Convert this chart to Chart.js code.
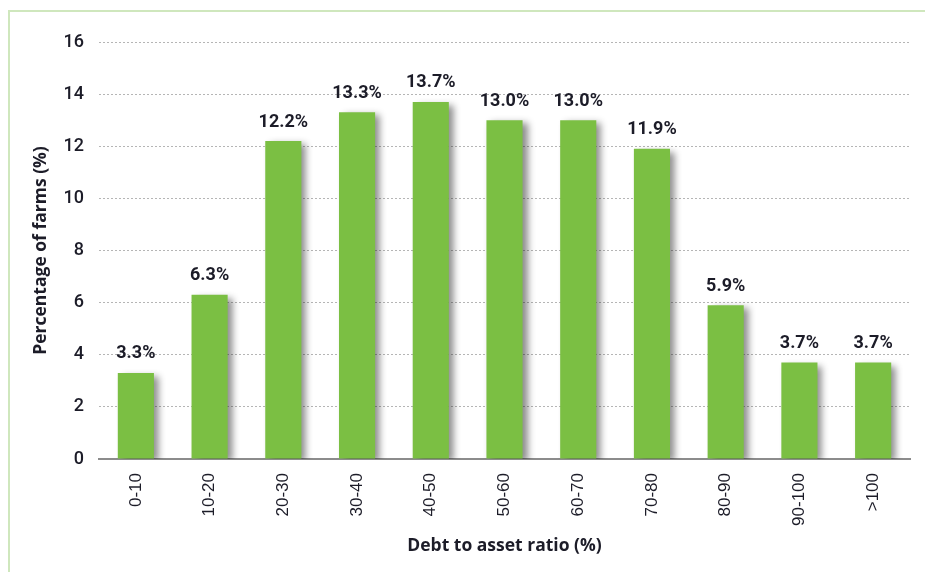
<!DOCTYPE html>
<html>
<head>
<meta charset="utf-8">
<script src="https://cdn.jsdelivr.net/npm/chart.js@4/dist/chart.umd.min.js"></script>
<style>
  html,body{margin:0;padding:0;background:#fff;}
  #wrap{width:925px;height:572px;position:relative;}
</style>
</head>
<body>
<div id="wrap"><canvas id="chart" width="925" height="572"></canvas></div>
<script>
// ---- data ----
const categories = ["0-10","10-20","20-30","30-40","40-50","50-60","60-70","70-80","80-90","90-100",">100"];
const farmShare = [3.3, 6.3, 12.2, 13.3, 13.7, 13.0, 13.0, 11.9, 5.9, 3.7, 3.7];
const yTicks = [0, 2, 4, 6, 8, 10, 12, 14, 16];

const barGreen = "#7bbf43";
const textDark = "#1c1c28";

// green frame round the figure
const framePlugin = {
  id: "frame",
  beforeDraw(chart){
    const c = chart.ctx;
    c.save();
    c.strokeStyle = "#cfe7bd";
    c.lineWidth = 2;
    c.beginPath();
    c.moveTo(9, chart.height);
    c.lineTo(9, 11);
    c.lineTo(chart.width, 11);
    c.stroke();
    c.restore();
  }
};

// soft shadow behind the bars
const shadowPlugin = {
  id: "barShadow",
  beforeDatasetsDraw(chart){
    const c = chart.ctx;
    c.save();
    c.shadowColor = "rgba(0,0,0,0.45)";
    c.shadowBlur = 7;
    c.shadowOffsetX = 5;
    c.shadowOffsetY = 3;
  },
  afterDatasetsDraw(chart){ chart.ctx.restore(); }
};

// value labels above bars
const valueLabels = {
  id: "valueLabels",
  afterDatasetsDraw(chart){
    const c = chart.ctx;
    const meta = chart.getDatasetMeta(0);
    c.save();
    c.font = "bold 18px Roboto";
    c.fillStyle = textDark;
    c.textAlign = "center";
    c.textBaseline = "bottom";
    meta.data.forEach((bar, i) => {
      c.fillText(farmShare[i].toFixed(1) + "%", bar.x, bar.y - 10);
    });
    c.restore();
  }
};

new Chart(document.getElementById("chart"), {
  type: "bar",
  data: {
    labels: categories,
    datasets: [{
      data: farmShare,
      backgroundColor: barGreen,
      borderWidth: 0,
      categoryPercentage: 1.0,
      barPercentage: 0.49
    }]
  },
  options: {
    responsive: false,
    animation: false,
    layout: { padding: { left: 0, top: 42, right: 15, bottom: 0 } },
    plugins: { legend: { display: false }, tooltip: { enabled: false } },
    scales: {
      x: {
        grid: { display: false, drawTicks: false },
        border: { display: true, color: "#8c8c8c", width: 2 },
        ticks: {
          color: textDark,
          font: { family: "Liberation Sans", size: 17 },
          minRotation: 90, maxRotation: 90,
          padding: 14
        },
        title: {
          display: true,
          text: "Debt to asset ratio (%)",
          color: textDark,
          font: { family: "Open Sans", size: 17.5, weight: "bold" },
          padding: { top: 0, bottom: 15 }
        },
        afterFit(scale){ scale.height = 113; }
      },
      y: {
        min: 0, max: 16,
        afterBuildTicks(scale){ scale.ticks = yTicks.map(v => ({ value: v })); },
        grid: {
          drawTicks: false,
          color: ctx => ctx.tick && ctx.tick.value === 0 ? "rgba(0,0,0,0)" : "#b5b5b5",
          lineWidth: 1
        },
        border: { display: false, dash: [2, 2] },
        ticks: {
          color: textDark,
          font: { family: "Roboto", size: 18, weight: "500" },
          padding: 15
        },
        title: {
          display: true,
          text: "Percentage of farms (%)",
          color: textDark,
          font: { family: "Open Sans", size: 17.5, weight: "bold" },
          padding: { top: 31, bottom: 0 }
        },
        afterFit(scale){ scale.width = 99; }
      }
    }
  },
  plugins: [framePlugin, shadowPlugin, valueLabels]
});
</script>
</body>
</html>
